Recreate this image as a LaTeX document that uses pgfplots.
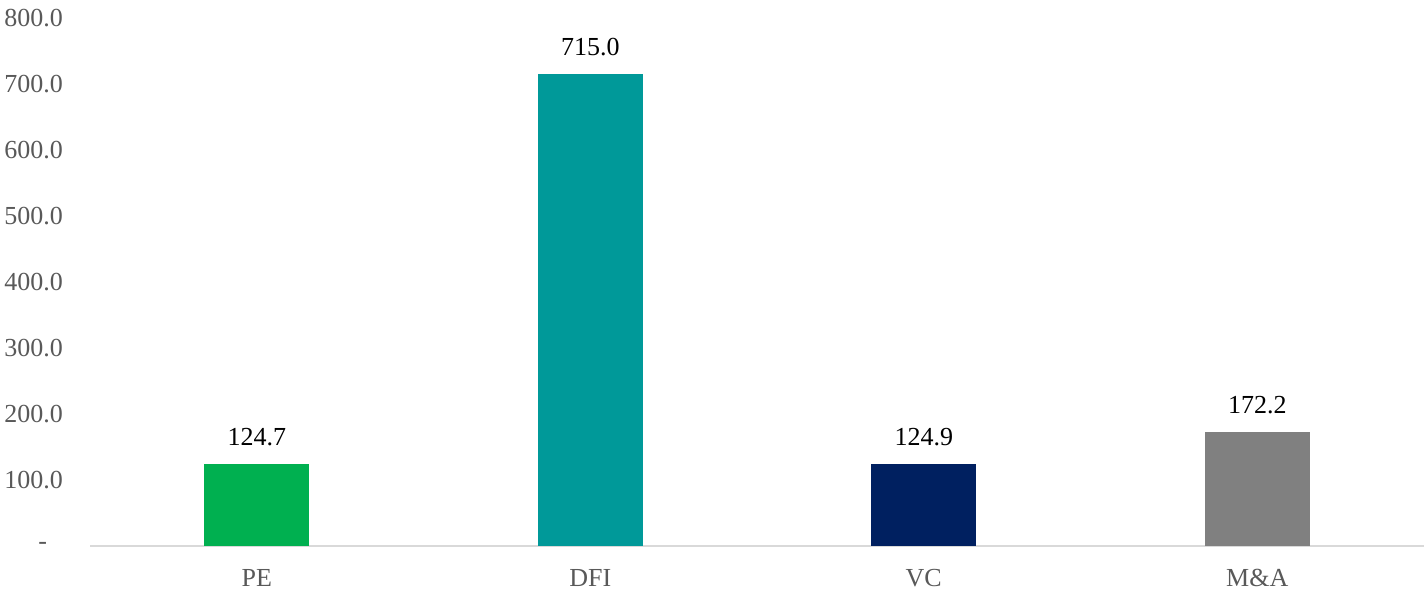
\documentclass[border=0pt]{standalone}
\usepackage{pgfplots}
\pgfplotsset{compat=1.18}
\usepackage{fontspec}
\setmainfont{Liberation Serif}
\definecolor{cPE}{HTML}{00B050}
\definecolor{cDFI}{HTML}{009999}
\definecolor{cVC}{HTML}{002060}
\definecolor{cMA}{HTML}{808080}
\definecolor{tickgray}{HTML}{595959}
\definecolor{axgray}{HTML}{D9D9D9}
\begin{document}
\begin{tikzpicture}
\path[use as bounding box] (-45pt,-22pt) rectangle (667pt,273pt);
\begin{axis}[
  scale only axis,
  width=667pt, height=264pt,
  xmin=-0.5, xmax=3.5,
  ymin=0, ymax=800,
  ybar, bar width=52.5pt, bar shift=0pt,
  xtick={0,1,2,3},
  xticklabels={PE,DFI,VC,M\&A},
  ytick={0,100,...,800},
  yticklabels={{-\hspace*{8pt}},100.0,200.0,300.0,400.0,500.0,600.0,700.0,800.0},
  major tick length=0pt,
  axis x line*=bottom,
  axis y line*=left,
  y axis line style={draw=none},
  x axis line style={draw=axgray, line width=1pt, -},
  /pgf/number format/assume math mode=true,
  ticklabel style={font=\fontsize{13}{15}\selectfont, text=tickgray},
  yticklabel style={anchor=east, xshift=-10pt},
  xticklabel style={yshift=-8pt},
  nodes near coords,
  nodes near coords style={font=\fontsize{13}{15}\selectfont, text=black, yshift=5.5pt,
    /pgf/number format/.cd, fixed, fixed zerofill, precision=1, assume math mode=true},
  clip=false,
]
\addplot[fill=cPE, draw=none] coordinates {(0,124.7)};
\addplot[fill=cDFI, draw=none] coordinates {(1,715.0)};
\addplot[fill=cVC, draw=none] coordinates {(2,124.9)};
\addplot[fill=cMA, draw=none] coordinates {(3,172.2)};
\end{axis}
\end{tikzpicture}
\end{document}
